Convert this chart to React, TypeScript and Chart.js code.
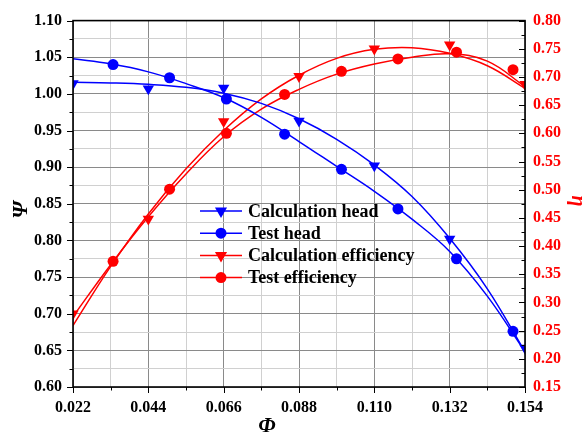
import { useEffect, useRef } from "react";
import { Chart, registerables } from "chart.js";

Chart.register(...registerables);

// Simulated operating points (triangles)
const calcX = [0.022, 0.044, 0.066, 0.088, 0.11, 0.132, 0.154];
const calcHead = [1.014, 1.007, 1.008, 0.963, 0.902, 0.802, 0.653];
const calcEff = [0.28, 0.448, 0.621, 0.701, 0.75, 0.757, 0.687];

// Measured operating points (circles)
const testX = [0.0337, 0.0502, 0.0668, 0.0838, 0.1004, 0.1169, 0.134, 0.1505];
const testHead = [1.04, 1.022, 0.993, 0.945, 0.897, 0.843, 0.775, 0.676];
const testEff = [0.373, 0.501, 0.6, 0.669, 0.71, 0.732, 0.744, 0.713];

// Fitted curves sampled along the flow coefficient
const fitX = [0.022, 0.033, 0.044, 0.055, 0.066, 0.077, 0.088, 0.099, 0.11, 0.121, 0.132, 0.143, 0.154];
const calcHeadFit = [1.016, 1.015, 1.013, 1.009, 1.001, 0.987, 0.966, 0.938, 0.903, 0.86, 0.803, 0.734, 0.648];
const testHeadFit = [1.048, 1.041, 1.03, 1.014, 0.995, 0.968, 0.935, 0.901, 0.867, 0.829, 0.785, 0.724, 0.648];
const calcEffFit = [0.259, 0.364, 0.457, 0.537, 0.605, 0.661, 0.703, 0.733, 0.749, 0.752, 0.742, 0.72, 0.68];
const testEffFit = [0.275, 0.367, 0.452, 0.528, 0.594, 0.643, 0.678, 0.705, 0.723, 0.735, 0.741, 0.728, 0.683];

const legendLabels = ["Calculation head", "Test head", "Calculation efficiency", "Test efficiency"];

const BLUE = "#0000ff";
const RED = "#ff0000";
const MAJOR_GRID = "#8a8a8a";
const MINOR_GRID = "#d0d0d0";
const SERIF = "'Liberation Serif', 'Times New Roman', serif";

const pts = (xs: number[], ys: number[]) => xs.map((x, i) => ({ x, y: ys[i] }));

export default function App() {
  const ref = useRef<HTMLCanvasElement>(null);

  useEffect(() => {
    const canvas = ref.current;
    if (!canvas) return;

    const drawMarker = (ctx: CanvasRenderingContext2D, kind: string, x: number, y: number, color: string) => {
      ctx.fillStyle = color;
      ctx.beginPath();
      if (kind === "triangle") {
        const r = 7;
        ctx.moveTo(x, y + r);
        ctx.lineTo(x - r * 0.866, y - r * 0.5);
        ctx.lineTo(x + r * 0.866, y - r * 0.5);
        ctx.closePath();
      } else {
        ctx.arc(x, y, 5.5, 0, Math.PI * 2);
      }
      ctx.fill();
    };

    const overlay = {
      id: "overlay",
      afterDraw(chart: any) {
        const ctx: CanvasRenderingContext2D = chart.ctx;
        const { left, right, top, bottom } = chart.chartArea;
        const xs = chart.scales.x;
        const ys = chart.scales.y;
        const y1 = chart.scales.y1;
        ctx.save();

        // tick marks: outward on the left and bottom, inward on the right
        ctx.strokeStyle = "#000";
        ctx.lineWidth = 1;
        ctx.beginPath();
        xs.ticks.forEach((t: any, i: number) => {
          const p = Math.round(xs.getPixelForValue(t.value)) + 0.5;
          const len = i % 2 === 0 ? 6 : 3.5;
          ctx.moveTo(p, bottom);
          ctx.lineTo(p, bottom + len);
        });
        ys.ticks.forEach((t: any, i: number) => {
          const p = Math.round(ys.getPixelForValue(t.value)) + 0.5;
          const len = i % 2 === 0 ? 6 : 3.5;
          ctx.moveTo(left, p);
          ctx.lineTo(left - len, p);
        });
        y1.ticks.forEach((t: any, i: number) => {
          const p = Math.round(y1.getPixelForValue(t.value)) + 0.5;
          const len = i % 2 === 0 ? 6 : 3.5;
          ctx.moveTo(right, p);
          ctx.lineTo(right - len, p);
        });
        ctx.stroke();

        // frame
        ctx.lineWidth = 1.6;
        ctx.strokeRect(left, top, right - left, bottom - top);

        // axis titles
        ctx.textAlign = "center";
        ctx.textBaseline = "middle";
        ctx.fillStyle = "#000";
        ctx.font = `italic bold 22px ${SERIF}`;
        ctx.fillText("\u03A6", 267, 426);

        ctx.save();
        ctx.translate(21, 210);
        ctx.rotate(-Math.PI / 2);
        ctx.font = `italic bold 22px ${SERIF}`;
        ctx.fillText("\u03A8", 0, 0);
        ctx.restore();

        ctx.save();
        ctx.translate(577, 201);
        ctx.rotate(Math.PI / 2);
        ctx.fillStyle = RED;
        ctx.font = `italic bold 20px ${SERIF}`;
        ctx.fillText("\u03B7", 0, 0);
        ctx.restore();

        // legend
        const rows = [
          { color: BLUE, kind: "triangle" },
          { color: BLUE, kind: "circle" },
          { color: RED, kind: "triangle" },
          { color: RED, kind: "circle" },
        ];
        rows.forEach((row, i) => {
          const yy = 211 + i * 22.2;
          ctx.strokeStyle = row.color;
          ctx.lineWidth = 1.5;
          ctx.beginPath();
          ctx.moveTo(200, yy);
          ctx.lineTo(242, yy);
          ctx.stroke();
          drawMarker(ctx, row.kind, 221, yy, row.color);
          ctx.fillStyle = "#000";
          ctx.textAlign = "left";
          ctx.textBaseline = "middle";
          ctx.font = `bold 18px ${SERIF}`;
          ctx.fillText(legendLabels[i], 248, yy + 1);
        });

        ctx.restore();
      },
    };

    const fitLine = (data: number[], color: string, axis: string) => ({
      data: pts(fitX, data),
      yAxisID: axis,
      borderColor: color,
      backgroundColor: color,
      borderWidth: 1.5,
      pointRadius: 0,
      tension: 0.4,
      fill: false,
    });

    const markers = (xsArr: number[], data: number[], color: string, axis: string, kind: string) => ({
      data: pts(xsArr, data),
      yAxisID: axis,
      showLine: false,
      borderColor: color,
      backgroundColor: color,
      borderWidth: 0,
      pointStyle: kind,
      rotation: kind === "triangle" ? 180 : 0,
      pointRadius: kind === "triangle" ? 6.6 : 5.5,
    });

    const tickFont = { family: SERIF, size: 16, weight: "bold" as const };

    const chart = new Chart(canvas, {
      type: "line",
      data: {
        datasets: [
          fitLine(calcHeadFit, BLUE, "y"),
          fitLine(testHeadFit, BLUE, "y"),
          fitLine(calcEffFit, RED, "y1"),
          fitLine(testEffFit, RED, "y1"),
          markers(calcX, calcHead, BLUE, "y", "triangle"),
          markers(testX, testHead, BLUE, "y", "circle"),
          markers(calcX, calcEff, RED, "y1", "triangle"),
          markers(testX, testEff, RED, "y1", "circle"),
        ] as any,
      },
      options: {
        responsive: false,
        animation: false,
        devicePixelRatio: 1,
        layout: { padding: { top: 19, left: 0, right: 0, bottom: 0 } },
        plugins: { legend: { display: false }, tooltip: { enabled: false } },
        scales: {
          x: {
            type: "linear",
            min: 0.022,
            max: 0.154,
            ticks: {
              stepSize: 0.011,
              autoSkip: false,
              maxRotation: 0,
              padding: 11,
              color: "#000",
              font: tickFont,
              callback: (v: any, i: number) => (i % 2 === 0 ? Number(v).toFixed(3) : ""),
            },
            grid: {
              drawTicks: false,
              lineWidth: 1,
              color: (c: any) => (c.index % 2 === 0 ? MAJOR_GRID : MINOR_GRID),
            },
            border: { display: false },
            afterFit: (s: any) => {
              s.height = 45;
            },
          },
          y: {
            type: "linear",
            position: "left",
            min: 0.6,
            max: 1.1,
            ticks: {
              stepSize: 0.025,
              autoSkip: false,
              padding: 11,
              color: "#000",
              font: tickFont,
              callback: (v: any, i: number) => (i % 2 === 0 ? Number(v).toFixed(2) : ""),
            },
            grid: {
              drawTicks: false,
              lineWidth: 1,
              color: (c: any) => (c.index % 2 === 0 ? MAJOR_GRID : MINOR_GRID),
            },
            border: { display: false },
            afterFit: (s: any) => {
              s.width = 73;
            },
          },
          y1: {
            type: "linear",
            position: "right",
            min: 0.15,
            max: 0.8,
            ticks: {
              stepSize: 0.025,
              autoSkip: false,
              padding: 8,
              color: RED,
              font: tickFont,
              callback: (v: any, i: number) => (i % 2 === 0 ? Number(v).toFixed(2) : ""),
            },
            grid: { display: false, drawTicks: false },
            border: { display: false },
            afterFit: (s: any) => {
              s.width = 57;
            },
          },
        },
      },
      plugins: [overlay],
    });

    return () => chart.destroy();
  }, []);

  return (
    <div style={{ position: "fixed", left: 0, top: 0, width: 582, height: 432, background: "#fff" }}>
      <canvas ref={ref} width={582} height={432} style={{ display: "block" }} />
    </div>
  );
}
